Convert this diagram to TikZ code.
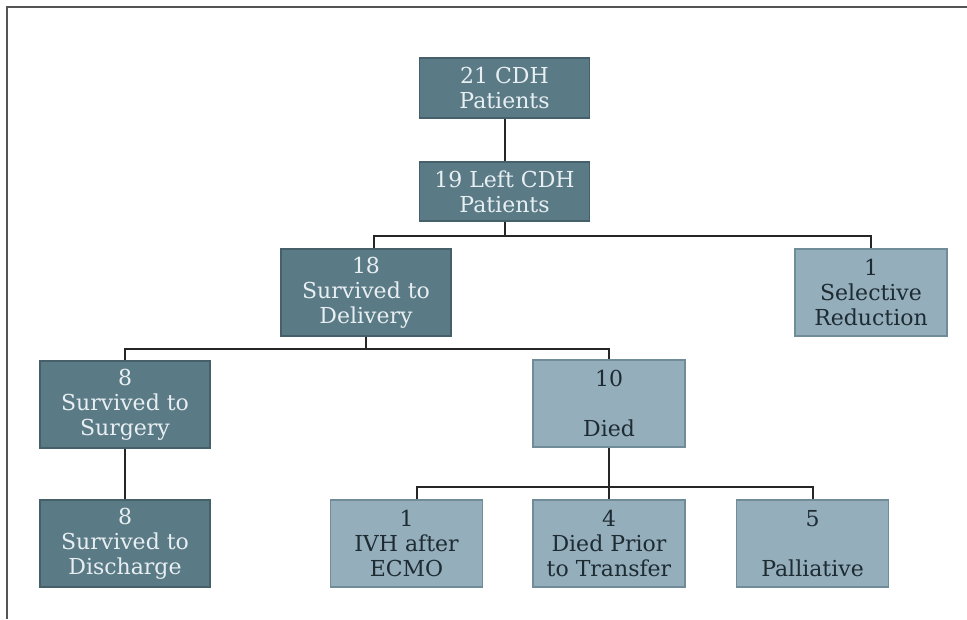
\documentclass[tikz,border=0pt]{standalone}
\usepackage{fontspec}
\setmainfont{DejaVu Serif}
\definecolor{darkbox}{HTML}{5A7A85}
\definecolor{darkedge}{HTML}{46606A}
\definecolor{lightbox}{HTML}{95AEBB}
\definecolor{lightedge}{HTML}{708C99}
\definecolor{lighttext}{HTML}{E8EFF2}
\definecolor{darktext}{HTML}{1D2B33}
\definecolor{framecol}{HTML}{555555}
\begin{document}
\begin{tikzpicture}[x=0.75pt,y=-0.75pt,
  boxbase/.style={rectangle, inner sep=1pt, align=center,
    font=\fontsize{16.5pt}{18.75pt}\selectfont, line width=1.2pt},
  darkb/.style={boxbase, fill=darkbox, draw=darkedge, text=lighttext},
  lightb/.style={boxbase, fill=lightbox, draw=lightedge, text=darktext},
  wide/.style={minimum width=127.5pt},
  narrow/.style={minimum width=114pt},
  tall/.style={minimum height=65pt},
  conn/.style={draw=black!85, line width=1.5pt}]
\fill[white] (0,0) rectangle (967,619);
\useasboundingbox (0,0) rectangle (967,619);
\draw[framecol, line width=1.2pt] (967,7) -- (7,7) -- (7,619);

\node[darkb, wide, minimum height=45pt] (b1) at (504.5,88) {21 CDH\\Patients};
\node[darkb, wide, minimum height=44pt] (b2) at (504.5,191.5) {19 Left CDH\\Patients};
\node[darkb, wide, tall] (b3) at (366,292.5) {18\\Survived to\\Delivery};
\node[lightb, narrow, tall] (b4) at (871,292.5) {1\\Selective\\Reduction};
\node[darkb, wide, tall] (b5) at (125,404.5) {8\\Survived to\\Surgery};
\node[lightb, narrow, tall] (b6) at (609,403.5) {10\\~\\Died};
\node[darkb, wide, tall] (b7) at (125,543.5) {8\\Survived to\\Discharge};
\node[lightb, narrow, tall] (b8) at (406.5,543.5) {1\\IVH after\\ECMO};
\node[lightb, narrow, tall] (b9) at (609,543.5) {4\\Died Prior\\to Transfer};
\node[lightb, narrow, tall] (b10) at (812.5,543.5) {5\\~\\Palliative};

\coordinate (j1) at (504.5,236);
\coordinate (j2) at (366,349);
\coordinate (j3) at (609,487);

\draw[conn] (b1.south) -- (b2.north);
\draw[conn] (b2.south) -- (j1);
\draw[conn] ([xshift=6pt]b3.north) |- (j1) -| (b4.north);
\draw[conn] (b3.south) -- (j2);
\draw[conn] (b5.north) |- (j2) -| (b6.north);
\draw[conn] (b5.south) -- (b7.north);
\draw[conn] (b6.south) -- (b9.north);
\draw[conn] ([xshift=7.5pt]b8.north) |- (j3) -| (b10.north);
\end{tikzpicture}
\end{document}
